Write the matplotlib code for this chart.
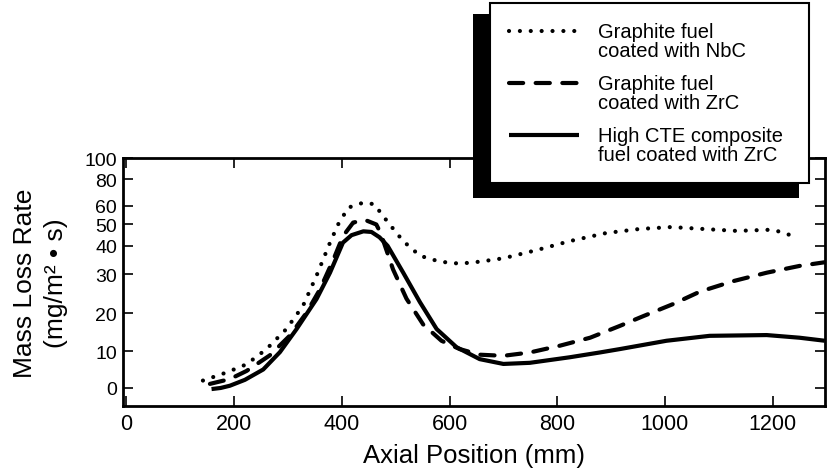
import numpy as np
import matplotlib
matplotlib.use("Agg")
import matplotlib.pyplot as plt
from matplotlib.legend_handler import HandlerLine2D
from matplotlib.patches import Rectangle
from matplotlib.transforms import IdentityTransform

plt.rcParams["font.family"] = ["Liberation Sans", "DejaVu Sans"]

# values
x_nbc = [142, 186, 223, 260, 297, 328, 353, 378, 393, 412, 440, 460, 486, 514, 545,
         582, 619, 656, 700, 762, 823, 891, 953, 1012, 1071, 1133, 1192, 1213, 1233]
y_nbc = [2, 4.2, 6.4, 10.5, 15.8, 21.9, 29.6, 41.5, 50, 58.9, 62.2, 61, 51, 42.2, 36.5,
         34.4, 33.7, 34.4, 35.6, 38.5, 42.2, 46, 47.9, 48.8, 47.9, 47, 47.5, 46.7, 45]

x_zrc = [155, 192, 223, 266, 303, 334, 359, 384, 402, 421, 443, 464, 472, 495, 520,
         551, 585, 619, 656, 700, 749, 805, 861, 916, 960, 1015, 1065, 1127, 1189, 1250, 1297]
y_zrc = [1.1, 2.4, 4.6, 8.8, 14, 20, 26, 35, 44.5, 51, 52.4, 50, 46, 31.7, 23.7,
         17, 12.7, 10.5, 9, 8.7, 9.6, 11.4, 13.5, 16.6, 19.2, 22.3, 25.5, 28.2, 30.5, 32.9, 34.2]

x_cte = [158, 175, 192, 220, 254, 285, 316, 353, 378, 402, 418, 440, 455, 470, 485,
         514, 545, 576, 613, 656, 700, 749, 823, 879, 916, 1003, 1083, 1189, 1250, 1297]
y_cte = [-0.3, 0, 0.6, 2.2, 5, 9.7, 15.8, 23.6, 30.5, 41.5, 45, 46.8, 46.5, 44, 40,
         30.5, 22.8, 15.8, 11, 7.8, 6.5, 6.8, 8.3, 9.6, 10.5, 12.7, 14, 14.2, 13.5, 12.7]

labels = ["Graphite fuel\ncoated with NbC",
          "Graphite fuel\ncoated with ZrC",
          "High CTE composite\nfuel coated with ZrC"]

x_ticks = [0, 200, 400, 600, 800, 1000, 1200]
y_ticks = [0, 10, 20, 30, 40, 50, 60, 80, 100]

# the original axis is stretched unevenly: linear at the bottom, squeezed at the top
scale_vals = [-50, 0, 10, 20, 30, 40, 50, 60, 80, 100, 300]
scale_pos = [-185, 0, 37, 75, 114, 142.3, 163.7, 182.7, 209, 230, 430]


def fwd(v):
    return np.interp(v, scale_vals, scale_pos)


def inv(h):
    return np.interp(h, scale_pos, scale_vals)


class FirstLineHandler(HandlerLine2D):
    # put the sample line next to the first line of a two-line label
    def create_artists(self, legend, orig_handle, xdescent, ydescent,
                       width, height, fontsize, trans):
        arts = super().create_artists(legend, orig_handle, xdescent, ydescent,
                                      width, height, fontsize, trans)
        for a in arts:
            a.set_ydata(np.asarray(a.get_ydata()) + 0.52 * fontsize)
        return arts


fig = plt.figure(figsize=(8.29, 4.77), dpi=100)
ax = fig.add_axes([0.148, 0.1474, 0.847, 0.5187])

l1, = ax.plot(x_nbc, y_nbc, color="black", lw=3, linestyle=(0, (0.01, 2.6)),
              dash_capstyle="round", solid_joinstyle="round")
l2, = ax.plot(x_zrc, y_zrc, color="black", lw=3, linestyle=(0, (3.4, 3.0)),
              dash_capstyle="round")
l3, = ax.plot(x_cte, y_cte, color="black", lw=3, solid_capstyle="butt",
              solid_joinstyle="round")

ax.set_yscale("function", functions=(fwd, inv))
ax.set_xlim(-7, 1297)
ax.set_ylim(-4.8, 100)
ax.set_xticks(x_ticks)
ax.set_yticks(y_ticks)
ax.set_yticklabels([str(v) for v in y_ticks])
ax.minorticks_off()

ax.tick_params(direction="in", length=7, width=1.2, top=True, right=True)
ax.tick_params(axis="x", labelsize=15.5, pad=5)
ax.tick_params(axis="y", labelsize=14, pad=4)
for s in ax.spines.values():
    s.set_linewidth(2)

ax.set_xlabel("Axial Position (mm)", fontsize=18.5, labelpad=7)
ax.set_ylabel("Mass Loss Rate\n(mg/m² • s)", fontsize=19, labelpad=12,
              linespacing=1.35)

leg = fig.legend([l1, l2, l3], labels, loc="upper left",
                 bbox_to_anchor=(490 / 829, 0.0, 319 / 829, 1 - 4 / 477),
                 mode="expand", borderaxespad=0, fontsize=14.5,
                 handlelength=3.45, handletextpad=0.95, borderpad=0.95,
                 labelspacing=0.68, fancybox=False, frameon=True,
                 framealpha=1, facecolor="white", edgecolor="black",
                 handler_map={l1: FirstLineHandler(), l2: FirstLineHandler(),
                              l3: FirstLineHandler()})
leg.get_frame().set_linewidth(1.5)
leg.set_zorder(6)
for t in leg.get_texts():
    t.set_linespacing(1.0)

fig.canvas.draw()
bb = leg.get_window_extent()
shadow = Rectangle((bb.x0 - 17, bb.y0 - 15), bb.width + 7, bb.height + 4,
                   transform=IdentityTransform(), facecolor="black",
                   edgecolor="none", zorder=5)
fig.add_artist(shadow)

fig.savefig("out.png", dpi=100)
